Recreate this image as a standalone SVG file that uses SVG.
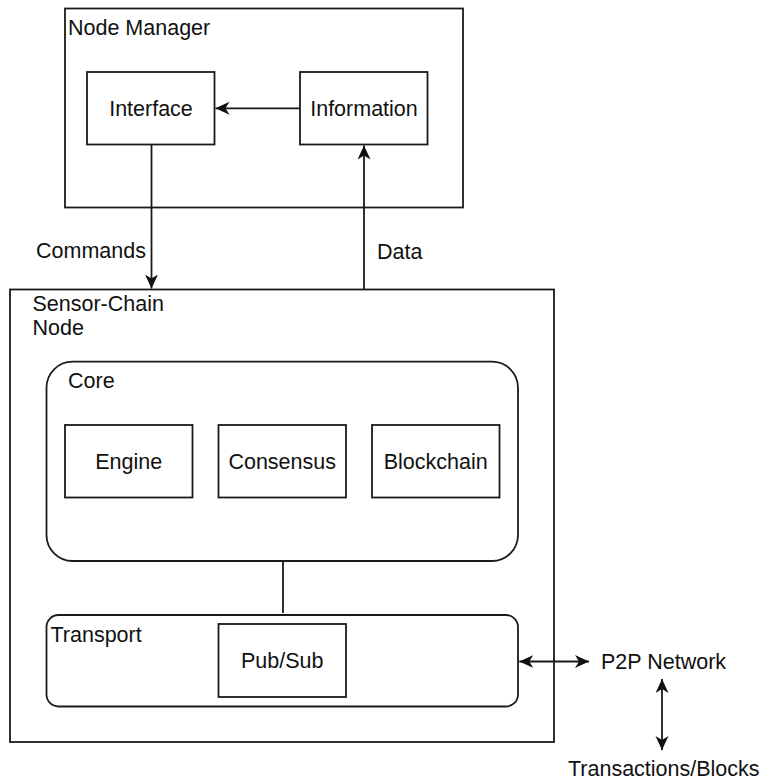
<svg xmlns="http://www.w3.org/2000/svg" width="765" height="784" viewBox="0 0 765 784">
<defs>
<style>
.box{fill:#ffffff;stroke:#1a1a1a;stroke-width:1.8}
.lbl{font-family:"Liberation Sans",Arial,Helvetica,sans-serif;font-size:21.5px;fill:#111111}
.mid{text-anchor:middle}
.edge{fill:none;stroke:#1a1a1a;stroke-width:1.8}
</style>
<marker id="arr" markerUnits="userSpaceOnUse" markerWidth="16" markerHeight="16" refX="14" refY="6.5" orient="auto-start-reverse">
<path d="M0,0 L14,6.5 L0,13 L4,6.5 Z" fill="#111111"/>
</marker>
</defs>
<rect width="765" height="784" fill="#ffffff"/>

<g id="node-manager">
<rect class="box" x="65" y="8.5" width="398" height="199"/>
<text class="lbl" x="68" y="35">Node Manager</text>
</g>
<g id="interface">
<rect class="box" x="87" y="72" width="127.5" height="72.5"/>
<text class="lbl mid" x="151" y="116">Interface</text>
</g>
<g id="information">
<rect class="box" x="300" y="72" width="127.5" height="72.5"/>
<text class="lbl mid" x="364" y="116">Information</text>
</g>

<g id="sensor-chain-node">
<rect class="box" x="10" y="289.5" width="544" height="452.5"/>
<text class="lbl" x="32.5" y="311">Sensor-Chain</text>
<text class="lbl" x="32.5" y="335">Node</text>
</g>
<g id="core">
<rect class="box" x="46.5" y="361.7" width="471.5" height="199.3" rx="26" ry="26"/>
<text class="lbl" x="68" y="388">Core</text>
</g>
<g id="engine">
<rect class="box" x="65" y="425" width="127.5" height="72.5"/>
<text class="lbl mid" x="128.7" y="469">Engine</text>
</g>
<g id="consensus">
<rect class="box" x="218.5" y="425" width="127.5" height="72.5"/>
<text class="lbl mid" x="282.2" y="469">Consensus</text>
</g>
<g id="blockchain">
<rect class="box" x="372" y="425" width="127.5" height="72.5"/>
<text class="lbl mid" x="435.7" y="469">Blockchain</text>
</g>
<g id="transport">
<rect class="box" x="46.5" y="615" width="471.5" height="91.5" rx="12" ry="12"/>
<text class="lbl" x="50.5" y="642">Transport</text>
</g>
<g id="pubsub">
<rect class="box" x="218.5" y="624" width="127.5" height="73"/>
<text class="lbl mid" x="282.2" y="668">Pub/Sub</text>
</g>
<g id="p2p-network">
<text class="lbl" x="601" y="669">P2P Network</text>
</g>
<g id="transactions-blocks">
<text class="lbl" x="568" y="776">Transactions/Blocks</text>
</g>

<g id="connectors">
<path class="edge" d="M300,108.3 L215.5,108.3" marker-end="url(#arr)"/>
<path class="edge" d="M151.5,144.5 L151.5,288.5" marker-end="url(#arr)"/>
<text class="lbl" x="36" y="258">Commands</text>
<path class="edge" d="M364,289.5 L364,145.5" marker-end="url(#arr)"/>
<text class="lbl" x="377" y="259">Data</text>
<path class="edge" d="M283,561 L283,613"/>
<path class="edge" d="M519.3,661.5 L589,661.5" marker-start="url(#arr)" marker-end="url(#arr)"/>
<path class="edge" d="M662,679 L662,750" marker-start="url(#arr)" marker-end="url(#arr)"/>
</g>
</svg>
